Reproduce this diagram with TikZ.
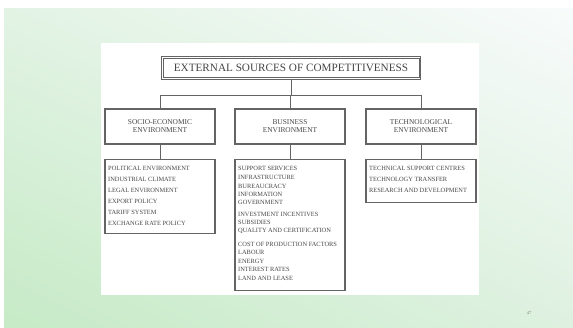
\documentclass[tikz,border=0pt]{standalone}
\usepackage{fontspec}
\setmainfont{Liberation Serif}
\usetikzlibrary{positioning,shadings}
\definecolor{boxline}{RGB}{100,100,100}
\definecolor{textgray}{RGB}{70,70,70}
\definecolor{bgll}{RGB}{198,234,198}
\definecolor{bgul}{RGB}{226,243,228}
\definecolor{bgur}{RGB}{248,251,251}
\definecolor{bglr}{RGB}{222,241,224}
\tikzset{
  box/.style={draw=boxline, line width=1.1pt, fill=white, inner sep=0pt},
  link/.style={draw=boxline, line width=0.9pt},
  head/.style={font=\fontsize{7.4}{8.2}\selectfont, text=textgray, align=center},
  item/.style={font=\fontsize{6.4}{7}\selectfont, text=textgray, anchor=west, inner sep=0pt},
}
\begin{document}
\begin{tikzpicture}[x=1pt,y=-1pt]
  % slide canvas and background gradient
  \fill[white] (0,0) rectangle (573,328);
  \shade[lower left=bgll, upper left=bgul, upper right=bgur, lower right=bglr]
    (4,9) rectangle (573,328);
  \fill[white] (101,43) rectangle (479,295);
  \useasboundingbox (0,0) rectangle (573,328);

  % title with a double frame
  \node[box, line width=1.3pt, minimum width=259pt, minimum height=23pt,
        font=\fontsize{11.2}{12}\selectfont, text=textgray] (title) at (291,68)
        {EXTERNAL SOURCES OF COMPETITIVENESS};
  \draw[boxline, line width=0.5pt]
    ([shift={(2.4pt,-2.4pt)}]title.north west) rectangle ([shift={(-2.4pt,2.4pt)}]title.south east);

  % environment headings
  \node[box, minimum width=110pt, minimum height=35pt, head] (soc) at (160,126.5)
        {SOCIO-ECONOMIC\\ENVIRONMENT};
  \node[box, minimum width=110pt, minimum height=35pt, head] (bus) at (290,126.5)
        {BUSINESS\\ENVIRONMENT};
  \node[box, minimum width=110pt, minimum height=35pt, head] (tec) at (421,126.5)
        {TECHNOLOGICAL\\ENVIRONMENT};

  % list boxes
  \node[box, minimum width=110pt, minimum height=74pt, anchor=north] (socl) at (160,159) {};
  \node[box, minimum width=110pt, minimum height=131pt, anchor=north] (busl) at (290,159) {};
  \node[box, minimum width=110pt, minimum height=43pt, anchor=north] (tecl) at (421,159) {};

  % connectors
  \coordinate (busy) at (291,95);
  \coordinate (busL) at (soc.north |- busy);
  \coordinate (busR) at (tec.north |- busy);
  \draw[link] (title.south) -- (title.south |- busy);
  \draw[link] (busL) -- (busR);
  \draw[link] (busL) -- (soc.north);
  \draw[link] (bus.north |- busy) -- (bus.north);
  \draw[link] (busR) -- (tec.north);
  \draw[link] (soc.south) -- (socl.north);
  \draw[link] (bus.south) -- (busl.north);
  \draw[link] (tec.south) -- (tecl.north);

  % socio-economic items
  \node[item] (s1) at (108,168) {POLITICAL ENVIRONMENT};
  \node[item] (s2) at (108,179) {INDUSTRIAL CLIMATE};
  \node[item] (s3) at (108,190) {LEGAL ENVIRONMENT};
  \node[item] (s4) at (108,201) {EXPORT POLICY};
  \node[item] (s5) at (108,212) {TARIFF SYSTEM};
  \node[item] (s6) at (108,223) {EXCHANGE RATE POLICY};

  % business items
  \node[item] (b1) at (238,168) {SUPPORT SERVICES};
  \node[item] (b2) at (238,177) {INFRASTRUCTURE};
  \node[item] (b3) at (238,186) {BUREAUCRACY};
  \node[item] (b4) at (238,194) {INFORMATION};
  \node[item] (b5) at (238,202) {GOVERNMENT};
  \node[item] (b6) at (238,214) {INVESTMENT INCENTIVES};
  \node[item] (b7) at (238,222) {SUBSIDIES};
  \node[item] (b8) at (238,231) {QUALITY AND CERTIFICATION};
  \node[item] (b9) at (238,244) {COST OF PRODUCTION FACTORS};
  \node[item] (b10) at (238,252) {LABOUR};
  \node[item] (b11) at (238,261) {ENERGY};
  \node[item] (b12) at (238,269) {INTEREST RATES};
  \node[item] (b13) at (238,278) {LAND AND LEASE};

  % technological items
  \node[item] (t1) at (369,168) {TECHNICAL SUPPORT CENTRES};
  \node[item] (t2) at (369,179) {TECHNOLOGY TRANSFER};
  \node[item] (t3) at (369,190) {RESEARCH AND DEVELOPMENT};

  % slide number
  \node[font=\fontsize{4.5}{5}\selectfont, text=gray] (pg) at (529,313) {47};
\end{tikzpicture}
\end{document}
